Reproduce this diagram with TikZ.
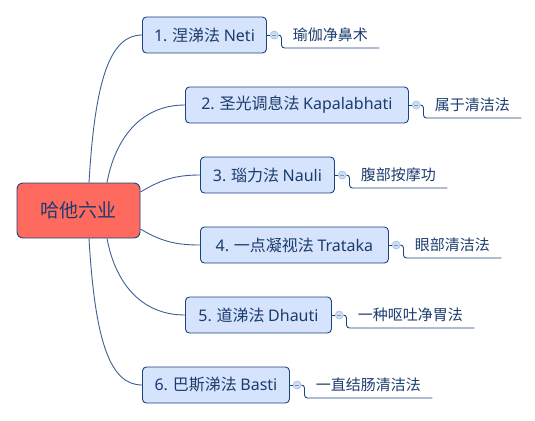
\documentclass[tikz,border=0pt]{standalone}
\usepackage{fontspec}
\setmainfont{Noto Sans CJK SC}
\newfontfamily\latinfont{Noto Sans}
\usetikzlibrary{positioning}

\definecolor{edgeblue}{HTML}{1A4480}
\definecolor{topicfill}{HTML}{D5E3FC}
\definecolor{rootfill}{HTML}{FF6A5F}
\definecolor{inkblue}{HTML}{1B3C6E}
\definecolor{knobfill}{HTML}{CCDDF5}
\definecolor{knobline}{HTML}{A3BCE3}

\newcommand{\lat}[1]{{\latinfont #1}}

\begin{document}
\begin{tikzpicture}[x=1pt,y=-1pt,line width=0.9pt,
	root/.style={draw=edgeblue,fill=rootfill,rounded corners=6pt,minimum width=123pt,minimum height=55pt,text=inkblue,font=\fontsize{19}{22}\selectfont},
	topic/.style={draw=edgeblue,fill=topicfill,rounded corners=4pt,minimum height=36pt,inner xsep=5pt,anchor=west,text=inkblue,font=\fontsize{16}{19}\selectfont},
	knob/.style={circle,draw=knobline,fill=knobfill,minimum size=8pt,inner sep=0pt,line width=0.6pt,
		path picture={\draw[knobline!80!black,line width=0.6pt] ([xshift=-2pt]path picture bounding box.center) -- ([xshift=2pt]path picture bounding box.center);}},
	note/.style={anchor=south west,inner xsep=11pt,inner ysep=0pt,text height=13pt,text depth=7pt,text=inkblue,font=\fontsize{15}{18}\selectfont},
	branch/.style={draw=edgeblue!85!white},
	leaf/.style={draw=edgeblue,rounded corners=3pt}]

	\useasboundingbox (0,0) rectangle (535,420);

	\node[root] (hatha) at (78.5,210.5) {哈他六业};

	\node[topic,minimum width=124pt] (t1) at (142,35) {\lat{1.} 涅涕法 \lat{Neti}};
	\node[topic,minimum width=223pt] (t2) at (185,105) {\lat{2.} 圣光调息法 \lat{Kapalabhati}};
	\node[topic,minimum width=134pt] (t3) at (200,175) {\lat{3.} 瑙力法 \lat{Nauli}};
	\node[topic,minimum width=188pt] (t4) at (200,245) {\lat{4.} 一点凝视法 \lat{Trataka}};
	\node[topic,minimum width=146pt] (t5) at (185,315) {\lat{5.} 道涕法 \lat{Dhauti}};
	\node[topic,minimum width=147pt] (t6) at (142,385) {\lat{6.} 巴斯涕法 \lat{Basti}};

	\node[knob,right=3pt of t1] (k1) {};
	\node[knob,right=3pt of t2] (k2) {};
	\node[knob,right=3pt of t3] (k3) {};
	\node[knob,right=3pt of t4] (k4) {};
	\node[knob,right=3pt of t5] (k5) {};
	\node[knob,right=3pt of t6] (k6) {};

	\node[note] (n1) at ([shift={(3pt,-13pt)}]k1.east) {瑜伽净鼻术};
	\node[note] (n2) at ([shift={(3pt,-13pt)}]k2.east) {属于清洁法};
	\node[note] (n3) at ([shift={(3pt,-13pt)}]k3.east) {腹部按摩功};
	\node[note] (n4) at ([shift={(3pt,-13pt)}]k4.east) {眼部清洁法};
	\node[note] (n5) at ([shift={(3pt,-13pt)}]k5.east) {一种呕吐净胃法};
	\node[note] (n6) at ([shift={(3pt,-13pt)}]k6.east) {一直结肠清洁法};

	% branches from the central topic
	\path[branch]
	([xshift=10.5pt]hatha.north) .. controls +(6,-103) and +(-32,0) .. (t1.west)
	([xshift=28.5pt]hatha.north) .. controls +(8,-43) and +(-45,0) .. (t2.west)
	([yshift=18.5pt]hatha.east) .. controls +(20,-12) and +(-25,0) .. (t3.west)
	([yshift=-18.5pt]hatha.east) .. controls +(20,12) and +(-25,0) .. (t4.west)
	([xshift=28.5pt]hatha.south) .. controls +(8,43) and +(-45,0) .. (t5.west)
	([xshift=10.5pt]hatha.south) .. controls +(6,103) and +(-32,0) .. (t6.west);

	% notes
	\foreach \i in {1,...,6} {
		\draw[edgeblue] (t\i.east) -- (k\i.west);
		\draw[leaf] (k\i.east) -- ++(3pt,0) |- (n\i.south east);
	}

\end{tikzpicture}
\end{document}
